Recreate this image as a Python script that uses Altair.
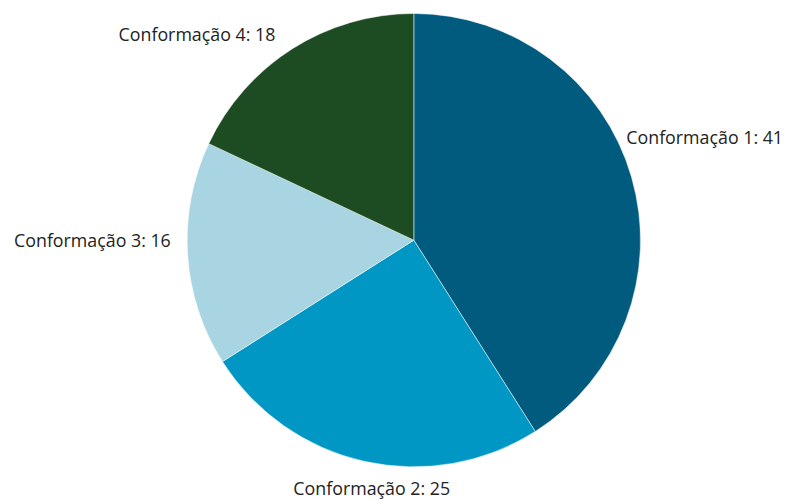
import altair as alt
import pandas as pd

categories = ["Conformação 1", "Conformação 2", "Conformação 3", "Conformação 4"]
values = [41, 25, 16, 18]
colors = ["#005b7f", "#0097c4", "#a9d4e1", "#1d4c22"]

df = pd.DataFrame({
    "cat": categories,
    "val": values,
    "idx": list(range(len(categories))),
})
df["label"] = df["cat"] + ": " + df["val"].astype(str)

CX, CY, R = 410, 232, 229

pie = alt.Chart(df).mark_arc(radius=R, stroke="white", strokeWidth=0.5).encode(
    theta=alt.Theta("val:Q", stack=True),
    order=alt.Order("idx:Q"),
    x=alt.value(CX),
    y=alt.value(CY),
    color=alt.Color("cat:N", scale=alt.Scale(domain=categories, range=colors), legend=None),
)

label_base = alt.Chart(df).transform_window(
    cum="sum(val)", sort=[alt.SortField("idx")], frame=[None, 0]
).transform_joinaggregate(
    total="sum(val)"
).transform_calculate(
    mid="(datum.cum - datum.val / 2) / datum.total"
).encode(
    theta=alt.Theta("mid:Q", scale=alt.Scale(domain=[0, 1])),
    x=alt.value(CX),
    y=alt.value(CY),
    text="label:N",
)

label_cfg = [
    # (category, align, radius, dx, dy)
    ("Conformação 1", "left", 235, -11, -37),
    ("Conformação 2", "center", 250, 12, 8),
    ("Conformação 3", "right", 235, -11, -13),
    ("Conformação 4", "right", 235, -14, -8),
]

labels = []
for cat, align, rad, dx, dy in label_cfg:
    labels.append(
        label_base.mark_text(
            radius=rad, align=align, baseline="middle", dx=dx, dy=dy,
            font="Open Sans", fontSize=18, color="#222222",
        ).transform_filter(alt.datum.cat == cat)
    )

chart = alt.layer(pie, alt.layer(*labels)).resolve_scale(theta="independent").properties(
    width=785, height=492,
    autosize=alt.AutoSizeParams(type="none"),
    padding=0,
).configure_view(stroke=None)

chart.save("out.html", embed_options={"renderer": "svg", "actions": False})
